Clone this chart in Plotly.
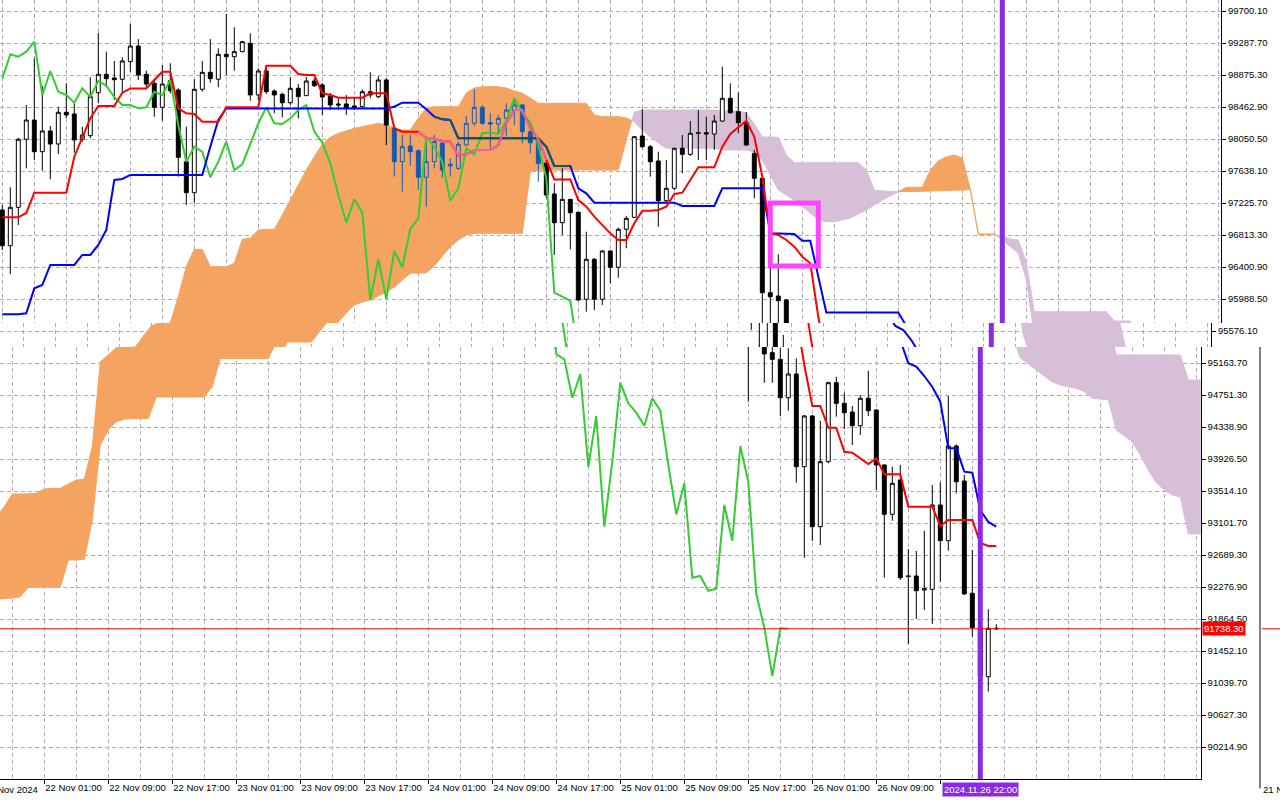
import pandas as pd
import plotly.graph_objects as go

# ------------------------------------------------------------------ data
START = "2024-11-21 17:00"          # time of the first hourly candle

candle_open = [
    97136, 96675, 97170, 98047, 98295, 97887, 98154, 97986, 98395, 98373,
    98047, 98093, 98647, 98884, 98837, 98820, 99047, 99249, 98884, 98768,
    98459, 98802, 98682, 97758, 97359, 98691, 98910, 98820, 99142, 99111,
    99176, 99284, 98618, 98927, 98669, 98627, 98518, 98704, 98609, 98798,
    98747, 98605, 98502, 98502, 98476, 98467, 98660, 98596, 98811, 98192,
    97758, 97960, 97900, 97557, 97758, 97995, 97703, 97673, 97973, 98253,
    98459, 98261, 98244, 98317, 98415, 98489, 98145, 98038, 97737, 97342,
    96972, 97273, 97106, 95985, 96500, 95985, 96607, 96397, 96887, 97041,
    98089, 97951, 97767, 97255, 97415, 97931, 97853, 98124, 98132, 98115,
    98282, 98575, 98403, 98261, 97866, 97544, 96070, 96027, 95976, 95297,
    95211, 94716, 95022, 93827, 94481, 93054, 93892, 94910, 94644, 94532,
    94356, 94709, 94558, 93849, 93214, 93656, 92410, 92419, 92238, 92247,
    93334, 92874, 94094, 93643, 92196, 91753, 91121, 91745]
candle_high = [
    97200, 97428, 98064, 98489, 99090, 98734, 98218, 98467, 98768, 98511,
    98209, 98846, 99421, 99176, 99056, 99103, 99533, 99339, 98931, 98820,
    99004, 99026, 98704, 98209, 98820, 99056, 99339, 99219, 99661, 99490,
    99313, 99413, 98962, 98962, 98691, 98647, 98846, 98759, 98850, 98833,
    98772, 98644, 98575, 98618, 98583, 98691, 98910, 98862, 98833, 98231,
    98102, 98102, 97918, 98038, 98102, 98016, 97802, 98016, 98347, 98691,
    98489, 98382, 98360, 98511, 98583, 98502, 98231, 98047, 97780, 97480,
    97673, 97277, 97110, 96856, 96517, 96620, 96620, 96908, 97058, 98089,
    98433, 97973, 97887, 97780, 97938, 98102, 98282, 98424, 98338, 98360,
    98982, 98768, 98647, 98399, 97909, 97548, 96569, 96565, 95989, 95525,
    95353, 95353, 95224, 94494, 94494, 94420, 94923, 94987, 94781, 94610,
    94751, 95064, 94570, 93860, 93827, 93849, 92767, 92741, 93002, 93591,
    93626, 94739, 94116, 93720, 92754, 91852, 91990, 91796]
candle_low = [
    96620, 96307, 96942, 97673, 97780, 97642, 97531, 97857, 98317, 97874,
    98016, 98060, 98511, 98717, 98553, 98647, 98918, 98811, 98704, 98338,
    98286, 98640, 97565, 97200, 97230, 98660, 98776, 98717, 98875, 98931,
    99168, 98544, 98553, 98631, 98382, 98330, 98489, 98317, 98605, 98721,
    98360, 98424, 98424, 98360, 98424, 98446, 98575, 98575, 97973, 97565,
    97371, 97703, 97393, 97178, 97673, 97548, 97565, 97651, 97960, 98218,
    98231, 97931, 98102, 98080, 98231, 97995, 97866, 97500, 97290, 96556,
    96813, 96629, 95963, 95825, 95847, 95911, 96191, 96263, 96642, 97033,
    97935, 97565, 96920, 97239, 97393, 97608, 97832, 97780, 97780, 97909,
    98270, 98373, 98124, 97960, 97286, 95589, 94665, 95374, 94910, 94910,
    94481, 94549, 93621, 92654, 92870, 92818, 93871, 94472, 94313, 94107,
    94236, 94481, 93527, 92397, 93131, 92367, 91543, 91865, 91981, 91800,
    92345, 92745, 93485, 92174, 91637, 91078, 90928, 91723]
candle_close = [
    96675, 97170, 98047, 98295, 97887, 98154, 97986, 98395, 98360, 98038,
    98102, 98596, 98884, 98828, 98815, 99056, 99249, 98875, 98759, 98459,
    98759, 98673, 97815, 97359, 98691, 98910, 98828, 99142, 99111, 99176,
    99305, 98618, 98927, 98660, 98618, 98518, 98704, 98596, 98798, 98737,
    98592, 98489, 98489, 98446, 98459, 98660, 98618, 98811, 98231, 97758,
    97951, 97887, 97557, 97758, 98016, 97651, 97725, 97982, 98253, 98459,
    98253, 98244, 98317, 98424, 98489, 98145, 98003, 97737, 97329, 96972,
    97273, 97101, 95976, 96500, 95985, 96607, 96397, 96887, 97028, 98080,
    97951, 97758, 97255, 97415, 97931, 97853, 98124, 98132, 98115, 98282,
    98575, 98390, 98261, 97973, 97544, 96070, 96018, 95967, 95280, 95211,
    94716, 95022, 93827, 94481, 93054, 93892, 94910, 94644, 94523, 94356,
    94709, 94549, 93849, 93214, 93613, 92397, 92419, 92229, 92255, 93334,
    92874, 94094, 93634, 92187, 91753, 91130, 91745, 91738.30]

tenkan_sen = [
    97041, 97041, 97041, 97097, 97359, 97359, 97359, 97359, 97359, 97822,
    98080, 98317, 98476, 98476, 98476, 98647, 98701, 98701, 98701, 98811,
    98918, 98918, 98446, 98382, 98373, 98274, 98274, 98274, 98459, 98459,
    98459, 98459, 98459, 98995, 98995, 98995, 98995, 98888, 98875, 98875,
    98640, 98618, 98583, 98583, 98583, 98583, 98640, 98640, 98640, 98188,
    98145, 98145, 98145, 98067, 98051, 98025, 98016, 97835, 97853, 97909,
    97909, 97909, 97973, 98253, 98424, 98424, 98188, 98051, 97780, 97529,
    97529, 97529, 97264, 97178, 97049, 96942, 96835, 96749, 96749, 96964,
    97127, 97127, 97136, 97178, 97342, 97359, 97522, 97686, 97686, 97686,
    97951, 98115, 98201, 98286, 98080, 97565, 96835, 96813, 96749, 96663,
    96534, 96449, 95760, 95138, 94610, 94610, 94330, 94330, 94020, 94008,
    93935, 93862, 93935, 93729, 93729, 93729, 93312, 93312, 93312, 93312,
    93063, 93140, 93140, 93140, 93140, 92844, 92805, 92805]
kijun_sen = [
    95791, 95791, 95791, 95804, 96126, 96169, 96427, 96427, 96427, 96427,
    96556, 96556, 96685, 96878, 97522, 97535, 97587, 97587, 97587, 97587,
    97587, 97587, 97587, 97587, 97587, 97587, 97951, 98295, 98444, 98444,
    98444, 98444, 98444, 98444, 98444, 98444, 98444, 98444, 98444, 98444,
    98444, 98444, 98444, 98444, 98444, 98444, 98444, 98444, 98444, 98467,
    98518, 98518, 98518, 98433, 98338, 98304, 98295, 98060, 98060, 98060,
    98060, 98060, 98060, 98060, 98060, 98060, 98060, 98060, 97951, 97703,
    97703, 97703, 97415, 97351, 97230, 97230, 97230, 97230, 97230, 97230,
    97230, 97230, 97230, 97230, 97230, 97187, 97187, 97187, 97187, 97187,
    97415, 97415, 97415, 97415, 97415, 97415, 96835, 96835, 96835, 96826,
    96740, 96740, 96276, 95815, 95815, 95815, 95815, 95815, 95815, 95815,
    95815, 95815, 95815, 95641, 95589, 95460, 95160, 95116, 94996, 94854,
    94665, 94064, 94064, 93763, 93750, 93269, 93115, 93054]
chikou_shift = 26

# Senkou spans, already displaced 26 bars forward (index 0 = first candle time)
senkou_span_a = [
    93012, 93076, 93183, 93312, 93476, 93476, 93479, 93485, 93540, 93549,
    93549, 93604, 93656, 93665, 94085, 95180, 95267, 95364, 95370, 95512,
    95641, 95683, 96018, 96405, 96629, 96629, 96405, 96405, 96405, 96449,
    96758, 96771, 96878, 96887, 96887, 97071, 97264, 97458, 97651, 97822,
    97986, 98072, 98124, 98154, 98188, 98209, 98231, 98253, 98231, 98192,
    98167, 98167, 98321, 98450, 98467, 98467, 98467, 98467, 98643, 98708,
    98725, 98725, 98725, 98708, 98669, 98640, 98579, 98511, 98511, 98511,
    98511, 98511, 98511, 98511, 98360, 98338, 98338, 98338, 98321, 98270,
    98167, 98076, 97999, 97931, 97931, 97931, 97931, 97931, 97931, 97931,
    97909, 97909, 97909, 97909, 97883, 97780, 97587, 97393, 97329, 97264,
    97178, 97097, 97007, 96985, 96985, 97007, 97032, 97084, 97136, 97200,
    97264, 97316, 97371, 97428, 97428, 97428, 97651, 97767, 97819, 97844,
    97806, 97402, 96826, 96826, 96826, 96749, 96663, 96581, 96233, 95525,
    95228, 95151, 95074, 94996, 94919, 94880, 94854, 94838, 94794, 94709,
    94700, 94687, 94300, 94223, 94146, 93978, 93785, 93617, 93527, 93463,
    93437, 92960, 92960, 92960]
senkou_span_b = [
    92109, 92109, 92122, 92126, 92135, 92152, 92273, 92273, 92273, 92273,
    92273, 92625, 92625, 92634, 93140, 94107, 94300, 94407, 94438, 94449,
    94449, 94449, 94726, 94726, 94726, 94726, 94726, 94726, 94726, 94858,
    95222, 95222, 95222, 95222, 95222, 95222, 95222, 95434, 95434, 95434,
    95434, 95563, 95692, 95808, 95911, 95950, 95976, 96027, 96079, 96143,
    96233, 96320, 96324, 96328, 96414, 96543, 96663, 96749, 96813, 96835,
    96835, 96835, 96835, 96835, 96835, 96835, 97625, 97651, 97651, 97651,
    97651, 97651, 97651, 97651, 97651, 97651, 97651, 97651, 98038, 98399,
    98424, 98424, 98424, 98424, 98424, 98424, 98424, 98424, 98424, 98424,
    98411, 98411, 98411, 98386, 98244, 98076, 98076, 98072, 97844, 97745,
    97745, 97745, 97745, 97745, 97745, 97745, 97745, 97745, 97651, 97393,
    97380, 97374, 97371, 97374, 97374, 97377, 97380, 97383, 97387, 97391,
    97393, 97400, 96820, 96820, 96820, 96800, 96762, 96749, 96465, 95825,
    95825, 95825, 95825, 95825, 95825, 95825, 95825, 95825, 95825, 95705,
    95705, 95705, 95267, 95267, 95267, 95267, 95267, 95267, 95267, 95267,
    95267, 94945, 94945, 94945]

price_ticks = [99700.10, 99287.70, 98875.30, 98462.90, 98050.50, 97638.10,
               97225.70, 96813.30, 96400.90, 95988.50, 95576.10, 95163.70,
               94751.30, 94338.90, 93926.50, 93514.10, 93101.70, 92689.30,
               92276.90, 91864.50, 91452.10, 91039.70, 90627.30, 90214.90]
time_ticks = ["2024-11-22 01:00", "2024-11-22 09:00", "2024-11-22 17:00",
              "2024-11-23 01:00", "2024-11-23 09:00", "2024-11-23 17:00",
              "2024-11-24 01:00", "2024-11-24 09:00", "2024-11-24 17:00",
              "2024-11-25 01:00", "2024-11-25 09:00", "2024-11-25 17:00",
              "2024-11-26 01:00", "2024-11-26 09:00", "2024-11-26 17:00"]
# the last label sits under the purple time marker box, so it is not visible
time_tick_labels = ["22 Nov 01:00", "22 Nov 09:00", "22 Nov 17:00",
                    "23 Nov 01:00", "23 Nov 09:00", "23 Nov 17:00",
                    "24 Nov 01:00", "24 Nov 09:00", "24 Nov 17:00",
                    "25 Nov 01:00", "25 Nov 09:00", "25 Nov 17:00",
                    "26 Nov 01:00", "26 Nov 09:00", ""]
first_label_time = "2024-11-21 17:00"
first_label = "21 Nov 2024"

# candles painted over the orange cloud (MT4 draws them blue there)
over_cloud_candles = [49, 50, 51, 52, 53, 54, 55, 56, 57, 58, 59, 60, 61,
                      62, 63, 64, 65, 66, 67]

box_times = ["2024-11-25 17:00", "2024-11-25 23:00"]
box_prices = [96415.0, 97225.0]
marker_time = "2024-11-26 22:00"
marker_label = "2024.11.26 22:00"
last_price = 91738.30

# ------------------------------------------------------------------ style / layout constants
W, H, PLOT_H = 1280, 800, 779
PX_PER_HOUR = 8.0
TOP_PRICE = 99841.86        # price at the top pixel row
PRICE_PER_PX = 12.8875
GRID = "#b4a9b4"
DASH = "4px,3px"
ORANGE = "#F4A460"
THISTLE = "#D8BFD8"
FONT = "Liberation Sans, Arial, sans-serif"
FS = 9.5

# the screenshot is composed of three horizontal bands rendered with a slight horizontal offset
strips = [
    dict(y_px=(0, 323), right_px=1221.0, first_px=2.3),
    dict(y_px=(323, 347), right_px=1211.0, first_px=-8.7),
    dict(y_px=(347, 779), right_px=1200.7, first_px=-19.7),
]

try:
    go.layout.Shape(layer="between")
    CLOUD_LAYER = "between"
except Exception:
    CLOUD_LAYER = "below"

n = len(candle_open)
t0 = pd.Timestamp(START)
times = pd.date_range(START, periods=n, freq="h")
cloud_times = pd.date_range(START, periods=len(senkou_span_a), freq="h")
cloud_ms = [int(t.value // 10**6) for t in cloud_times]


def cloud_pieces(xs, a, b):
    pieces = []
    cur = None
    for k in range(len(a) - 1):
        x0, x1 = xs[k], xs[k + 1]
        d0, d1 = a[k] - b[k], a[k + 1] - b[k + 1]
        segs = []
        if d0 * d1 < 0:
            t = d0 / (d0 - d1)
            xc = x0 + t * (x1 - x0)
            yc = a[k] + t * (a[k + 1] - a[k])
            segs.append((d0 > 0, [(x0, a[k]), (xc, yc)], [(x0, b[k]), (xc, yc)]))
            segs.append((d1 > 0, [(xc, yc), (x1, a[k + 1])], [(xc, yc), (x1, b[k + 1])]))
        else:
            s = (d0 >= 0) if d0 != 0 else (d1 >= 0)
            segs.append((s, [(x0, a[k]), (x1, a[k + 1])], [(x0, b[k]), (x1, b[k + 1])]))
        for s, ap, bp in segs:
            if cur is not None and cur[0] == s:
                cur[1].append(ap[1])
                cur[2].append(bp[1])
            else:
                cur = [s, list(ap), list(bp)]
                pieces.append(cur)
    out = []
    for s, up, lo in pieces:
        pts = up + lo[::-1]
        path = "M" + "L".join(f"{x:.0f},{y:.2f}" for x, y in pts) + "Z"
        out.append((path, ORANGE if s else THISTLE))
    return out


clouds = cloud_pieces(cloud_ms, senkou_span_a, senkou_span_b)

# line parts that lie inside the orange cloud (drawn in XOR-like colours)
MARGIN = 40


def inside_orange(vals):
    res = []
    for i, v in enumerate(vals):
        a, b = senkou_span_a[i], senkou_span_b[i]
        res.append(v if (a > b and b + MARGIN <= v <= a - MARGIN) else None)
    return res


tenkan_in = inside_orange(tenkan_sen)
kijun_in = inside_orange(kijun_sen)

blue_set = set(over_cloud_candles)
idx_black = [i for i in range(n) if i not in blue_set]
idx_blue = [i for i in range(n) if i in blue_set]


def pick(arr, idx):
    return [arr[i] for i in idx]


fig = go.Figure()
layout = {}
shapes = []
annotations = []

for k, s in enumerate(strips):
    sx = "" if k == 0 else str(k + 1)
    xa, ya = "x" + sx, "y" + sx
    bottom = k == 2

    # candles
    for idx, col, inc_fill in ((idx_black, "black", "white"),
                               (idx_blue, "#1659b0", "rgba(0,0,0,0)")):
        fig.add_trace(go.Candlestick(
            x=[times[i] for i in idx],
            open=pick(candle_open, idx), high=pick(candle_high, idx),
            low=pick(candle_low, idx), close=pick(candle_close, idx),
            increasing=dict(line=dict(color=col, width=1), fillcolor=inc_fill),
            decreasing=dict(line=dict(color=col, width=1), fillcolor=col),
            whiskerwidth=0, hoverinfo="skip", showlegend=False,
            xaxis=xa, yaxis=ya))

    # Ichimoku lines
    fig.add_trace(go.Scatter(x=times[:n - chikou_shift], y=candle_close[chikou_shift:],
                             mode="lines", line=dict(color="#32CD32", width=2),
                             hoverinfo="skip", showlegend=False, xaxis=xa, yaxis=ya))
    fig.add_trace(go.Scatter(x=times, y=kijun_sen, mode="lines",
                             line=dict(color="#0000FF", width=2),
                             hoverinfo="skip", showlegend=False, xaxis=xa, yaxis=ya))
    fig.add_trace(go.Scatter(x=times, y=kijun_in, mode="lines",
                             line=dict(color="#0b5a66", width=2), connectgaps=False,
                             hoverinfo="skip", showlegend=False, xaxis=xa, yaxis=ya))
    fig.add_trace(go.Scatter(x=times, y=tenkan_sen, mode="lines",
                             line=dict(color="#FF0000", width=2),
                             hoverinfo="skip", showlegend=False, xaxis=xa, yaxis=ya))
    fig.add_trace(go.Scatter(x=times, y=tenkan_in, mode="lines",
                             line=dict(color="#f060b0", width=2), connectgaps=False,
                             hoverinfo="skip", showlegend=False, xaxis=xa, yaxis=ya))

    # cloud
    for path, col in clouds:
        shapes.append(dict(type="path", path=path, xref=xa, yref=ya,
                           fillcolor=col, line=dict(color=col, width=1),
                           layer=CLOUD_LAYER))
    # vertical marker line
    shapes.append(dict(type="line", xref=xa, yref=ya + " domain",
                       x0=marker_time, x1=marker_time, y0=0, y1=1,
                       line=dict(color="#8A2BE2", width=5), layer="above"))

    i_left = -s["first_px"] / PX_PER_HOUR
    i_right = (s["right_px"] - s["first_px"]) / PX_PER_HOUR
    xr = [str(t0 + pd.Timedelta(hours=i_left)), str(t0 + pd.Timedelta(hours=i_right))]
    yr = [TOP_PRICE - PRICE_PER_PX * s["y_px"][1], TOP_PRICE - PRICE_PER_PX * s["y_px"][0]]

    layout["xaxis" + sx] = dict(
        domain=[0, s["right_px"] / W], anchor=ya, type="date", range=xr,
        tickmode="array", tickvals=time_ticks, ticktext=time_tick_labels,
        showticklabels=bottom, ticks="outside" if bottom else "", ticklen=4,
        tickcolor="black", tickwidth=1, ticklabelposition="outside right",
        tickangle=0,
        tickfont=dict(family=FONT, size=FS, color="black"),
        showline=bottom, linecolor="black", linewidth=1, zeroline=False,
        showgrid=True, gridcolor=GRID, griddash=DASH, gridwidth=1,
        minor=dict(dtick=4 * 3600 * 1000, tick0="2024-11-21 21:00", showgrid=True,
                   gridcolor=GRID, griddash=DASH, gridwidth=1, ticks=""),
        rangeslider=dict(visible=False), fixedrange=True)
    layout["yaxis" + sx] = dict(
        domain=[1 - s["y_px"][1] / PLOT_H, 1 - s["y_px"][0] / PLOT_H], anchor=xa,
        side="right", range=yr, tickmode="array", tickvals=price_ticks,
        tickformat=".2f", ticks="outside", ticklen=4, tickcolor="black", tickwidth=1,
        tickfont=dict(family=FONT, size=FS, color="black"),
        showline=True, linecolor="black", linewidth=1, mirror=(k == 0),
        zeroline=False, showgrid=True, gridcolor=GRID, griddash=DASH, gridwidth=1,
        fixedrange=True)

# highlighted rectangle (top band)
shapes.append(dict(type="rect", xref="x", yref="y", x0=box_times[0], x1=box_times[1],
                   y0=box_prices[0], y1=box_prices[1],
                   line=dict(color="#FF44FF", width=5), fillcolor="rgba(0,0,0,0)",
                   layer="above"))
# bid line
shapes.append(dict(type="line", xref="x3 domain", yref="y3", x0=0, x1=1,
                   y0=last_price, y1=last_price, line=dict(color="#FF0000", width=1)))
shapes.append(dict(type="line", xref="paper", yref="y3", x0=1262 / W, x1=1,
                   y0=last_price, y1=last_price, line=dict(color="#FF0000", width=1)))
# stray border of the neighbouring window fragment
shapes.append(dict(type="line", xref="paper", yref="paper", x0=1260 / W, x1=1260 / W,
                   y0=-0.012, y1=1 - 347 / PLOT_H, line=dict(color="black", width=1)))

# position of the first (partly scrolled-off) time label, in pixels of the bottom band
first_label_px = strips[2]["first_px"] + PX_PER_HOUR * (
    (pd.Timestamp(first_label_time) - t0) / pd.Timedelta(hours=1)) + 2

LABEL_Y = -(789.5 - PLOT_H) / PLOT_H
annotations.append(dict(x=1201.5 / W, xref="paper", xanchor="left",
                        y=last_price, yref="y3", yanchor="middle",
                        text=f"{last_price:.2f}", showarrow=False, bgcolor="#FF0000",
                        borderpad=1, font=dict(family=FONT, size=FS, color="white")))
annotations.append(dict(x=marker_time, xref="x3", xanchor="center",
                        y=LABEL_Y, yref="paper", yanchor="middle",
                        text=marker_label, showarrow=False, bgcolor="#8A2BE2",
                        borderpad=1, font=dict(family=FONT, size=FS, color="white")))
annotations.append(dict(x=first_label_px / W, xref="paper", xanchor="left",
                        y=LABEL_Y, yref="paper", yanchor="middle",
                        text=first_label, showarrow=False,
                        font=dict(family=FONT, size=FS, color="black")))
annotations.append(dict(x=1261 / W, xref="paper", xanchor="left",
                        y=LABEL_Y, yref="paper", yanchor="middle",
                        text="21 N", showarrow=False,
                        font=dict(family=FONT, size=FS, color="black")))

fig.update_layout(
    width=W, height=H, margin=dict(l=0, r=0, t=0, b=H - PLOT_H),
    paper_bgcolor="white", plot_bgcolor="white", showlegend=False,
    template="none", font=dict(family=FONT, size=FS, color="black"),
    shapes=shapes, annotations=annotations, hovermode=False, **layout)

fig.write_html("out.html", config={"displayModeBar": False},
               post_script="document.body.style.margin='0';"
                           "document.body.style.overflow='hidden';")
